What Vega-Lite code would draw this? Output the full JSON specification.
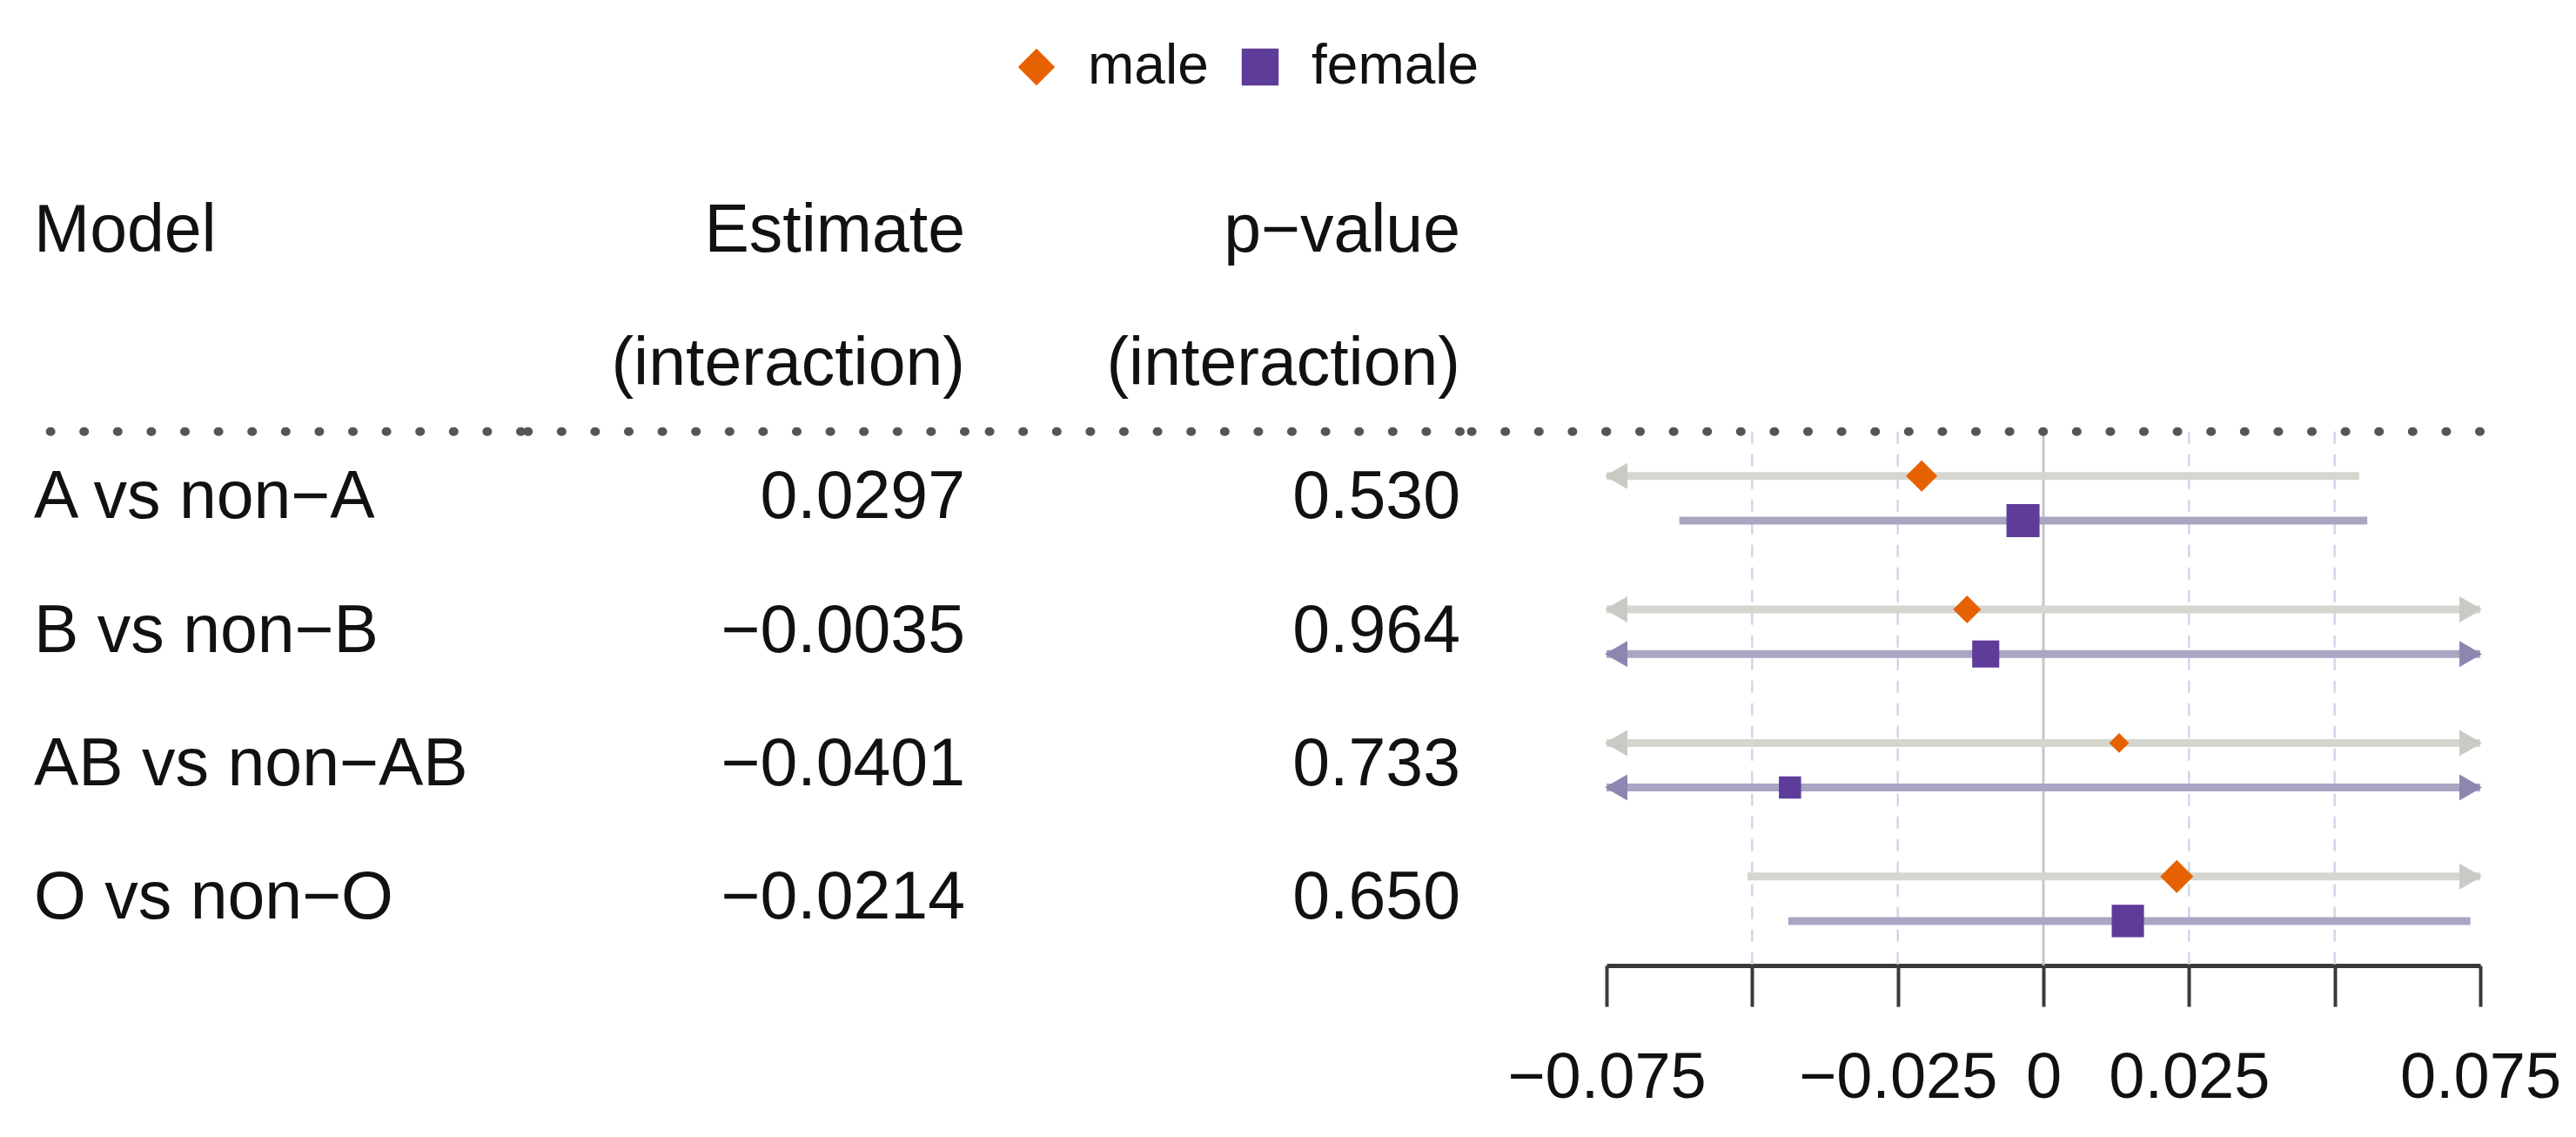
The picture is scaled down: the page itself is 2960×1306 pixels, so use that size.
{
  "$schema": "https://vega.github.io/schema/vega-lite/v6.json",
  "background": "white",
  "padding": {"left": 34, "top": 45, "right": 20, "bottom": 20},
  "bounds": "flush",
  "spacing": 0,
  "config": {
    "view": {"stroke": null},
    "font": "Liberation Sans",
    "legend": {
      "orient": "none",
      "legendX": 1120,
      "legendY": -144,
      "direction": "horizontal",
      "labelFontSize": 64,
      "labelColor": "#111111",
      "labelLimit": 0,
      "symbolSize": 1800,
      "symbolStrokeWidth": 0,
      "labelOffset": 27,
      "columnPadding": 27,
      "padding": 0
    }
  },
  "datasets": {
    "rows": [
      {"row": "h1", "model": "Model", "estimate": "Estimate", "pvalue": "p−value"},
      {"row": "h2", "model": "", "estimate": "(interaction)", "pvalue": "(interaction)"},
      {"row": "A", "model": "A vs non−A", "estimate": "0.0297", "pvalue": "0.530"},
      {"row": "B", "model": "B vs non−B", "estimate": "−0.0035", "pvalue": "0.964"},
      {"row": "AB", "model": "AB vs non−AB", "estimate": "−0.0401", "pvalue": "0.733"},
      {"row": "O", "model": "O vs non−O", "estimate": "−0.0214", "pvalue": "0.650"}
    ],
    "est": [
      {"row": "A", "sex": "male", "est": -0.0209, "lo": -0.075, "hi": 0.0542, "weight": 0.9},
      {"row": "A", "sex": "female", "est": -0.0035, "lo": -0.0625, "hi": 0.0556, "weight": 1.0},
      {"row": "B", "sex": "male", "est": -0.0131, "lo": -0.075, "hi": 0.075, "weight": 0.71},
      {"row": "B", "sex": "female", "est": -0.0099, "lo": -0.075, "hi": 0.075, "weight": 0.67},
      {"row": "AB", "sex": "male", "est": 0.0130, "lo": -0.075, "hi": 0.075, "weight": 0.36},
      {"row": "AB", "sex": "female", "est": -0.0435, "lo": -0.075, "hi": 0.075, "weight": 0.45},
      {"row": "O", "sex": "male", "est": 0.0229, "lo": -0.0508, "hi": 0.075, "weight": 1.0},
      {"row": "O", "sex": "female", "est": 0.0145, "lo": -0.0438, "hi": 0.0733, "weight": 0.95}
    ],
    "grid": [{"tick": -0.05}, {"tick": -0.025}, {"tick": 0.025}, {"tick": 0.05}]
  },
  "hconcat": [
    {
      "width": 560,
      "height": 920,
      "layer": [
        {
          "data": {"name": "rows"},
          "mark": {"type": "text", "align": "left", "baseline": "middle", "fontSize": 77, "color": "#111111"},
          "encoding": {
            "y": {"field": "row", "type": "nominal", "sort": null, "scale": {"domain": ["h1", "h2", "A", "B", "AB", "O"], "paddingInner": 0, "paddingOuter": 0}, "axis": null},
            "x": {"value": 0},
            "text": {"field": "model"}
          }
        },
        {
          "data": {"values": [{}]},
          "mark": {"type": "rule", "color": "#555555", "strokeWidth": 10, "strokeDash": [1, 37.6], "strokeCap": "round"},
          "encoding": {
            "y": {"datum": "A", "type": "nominal", "bandPosition": 0, "scale": {"domain": ["h1", "h2", "A", "B", "AB", "O"], "paddingInner": 0, "paddingOuter": 0}, "axis": null}
          }
        }
      ]
    },
    {
      "width": 510,
      "height": 920,
      "layer": [
        {
          "data": {"name": "rows"},
          "mark": {"type": "text", "align": "right", "baseline": "middle", "fontSize": 77, "color": "#111111"},
          "encoding": {
            "y": {"field": "row", "type": "nominal", "sort": null, "scale": {"domain": ["h1", "h2", "A", "B", "AB", "O"], "paddingInner": 0, "paddingOuter": 0}, "axis": null},
            "x": {"value": "width"},
            "text": {"field": "estimate"}
          }
        },
        {
          "data": {"values": [{}]},
          "mark": {"type": "rule", "color": "#555555", "strokeWidth": 10, "strokeDash": [1, 37.6], "strokeCap": "round"},
          "encoding": {
            "y": {"datum": "A", "type": "nominal", "bandPosition": 0, "scale": {"domain": ["h1", "h2", "A", "B", "AB", "O"], "paddingInner": 0, "paddingOuter": 0}, "axis": null}
          }
        }
      ]
    },
    {
      "width": 569,
      "height": 920,
      "layer": [
        {
          "data": {"name": "rows"},
          "mark": {"type": "text", "align": "right", "baseline": "middle", "fontSize": 77, "color": "#111111"},
          "encoding": {
            "y": {"field": "row", "type": "nominal", "sort": null, "scale": {"domain": ["h1", "h2", "A", "B", "AB", "O"], "paddingInner": 0, "paddingOuter": 0}, "axis": null},
            "x": {"value": "width"},
            "text": {"field": "pvalue"}
          }
        },
        {
          "data": {"values": [{}]},
          "mark": {"type": "rule", "color": "#555555", "strokeWidth": 10, "strokeDash": [1, 37.6], "strokeCap": "round"},
          "encoding": {
            "y": {"datum": "A", "type": "nominal", "bandPosition": 0, "scale": {"domain": ["h1", "h2", "A", "B", "AB", "O"], "paddingInner": 0, "paddingOuter": 0}, "axis": null}
          }
        }
      ]
    },
    {
      "width": 168,
      "height": 920,
      "layer": [
        {
          "data": {"values": [{}]},
          "mark": {"type": "rule", "color": "#555555", "strokeWidth": 10, "strokeDash": [1, 37.6], "strokeCap": "round"},
          "encoding": {
            "y": {"datum": "A", "type": "nominal", "bandPosition": 0, "scale": {"domain": ["h1", "h2", "A", "B", "AB", "O"], "paddingInner": 0, "paddingOuter": 0}, "axis": null}
          }
        }
      ]
    },
    {
      "width": 1004,
      "height": 920,
      "layer": [
        {
          "data": {"name": "grid"},
          "mark": {"type": "rule", "color": "#d4d4ea", "strokeWidth": 2.5, "strokeDash": [14, 12]},
          "encoding": {
            "x": {
              "field": "tick", "type": "quantitative", "title": null,
              "scale": {"domain": [-0.075, 0.075], "nice": false, "zero": false},
              "axis": {
                "orient": "bottom",
                "values": [-0.075, -0.05, -0.025, 0, 0.025, 0.05, 0.075],
                "format": "~g",
                "labelExpr": "abs(datum.value) > 0.04 && abs(datum.value) < 0.06 ? '' : datum.label",
                "grid": false,
                "domainColor": "#3a3a3a",
                "domainWidth": 5,
                "tickColor": "#3a3a3a",
                "tickWidth": 4,
                "tickSize": 47,
                "labelFontSize": 74,
                "labelColor": "#111111",
                "labelPadding": 46,
                "labelLimit": 0,
                "labelFlush": false,
                "labelOverlap": false,
                "labelBound": false
              }
            },
            "y": {"datum": "A", "type": "nominal", "bandPosition": 0, "scale": {"domain": ["h1", "h2", "A", "B", "AB", "O"], "paddingInner": 0, "paddingOuter": 0}, "axis": null},
            "y2": {"value": "height"}
          }
        },
        {
          "data": {"values": [{}]},
          "mark": {"type": "rule", "color": "#c6c6c6", "strokeWidth": 3},
          "encoding": {
            "x": {"datum": 0, "type": "quantitative", "title": null},
            "y": {"datum": "A", "type": "nominal", "bandPosition": 0, "axis": null},
            "y2": {"value": "height"}
          }
        },
        {
          "data": {"name": "est"},
          "mark": {"type": "rule", "strokeWidth": 9},
          "encoding": {
            "x": {"field": "lo", "type": "quantitative", "title": null},
            "x2": {"field": "hi"},
            "y": {"field": "row", "type": "nominal", "axis": null},
            "yOffset": {"field": "sex", "type": "nominal", "scale": {"type": "point", "domain": ["male", "female"], "padding": 1.756}},
            "color": {"condition": {"test": "datum.sex === 'male'", "value": "#d5d6cf"}, "value": "#a9a5c3"}
          }
        },
        {
          "data": {"name": "est"},
          "transform": [{"filter": "datum.lo <= -0.075"}],
          "mark": {"type": "point", "shape": "triangle-left", "filled": true, "size": 900, "opacity": 1, "xOffset": 11},
          "encoding": {
            "x": {"field": "lo", "type": "quantitative", "title": null},
            "y": {"field": "row", "type": "nominal", "axis": null},
            "yOffset": {"field": "sex", "type": "nominal"},
            "color": {"condition": {"test": "datum.sex === 'male'", "value": "#c9cac3"}, "value": "#8c87b0"}
          }
        },
        {
          "data": {"name": "est"},
          "transform": [{"filter": "datum.hi >= 0.075"}],
          "mark": {"type": "point", "shape": "triangle-right", "filled": true, "size": 900, "opacity": 1, "xOffset": -11},
          "encoding": {
            "x": {"field": "hi", "type": "quantitative", "title": null},
            "y": {"field": "row", "type": "nominal", "axis": null},
            "yOffset": {"field": "sex", "type": "nominal"},
            "color": {"condition": {"test": "datum.sex === 'male'", "value": "#c9cac3"}, "value": "#8c87b0"}
          }
        },
        {
          "data": {"name": "est"},
          "mark": {"type": "point", "filled": true, "opacity": 1, "strokeWidth": 0},
          "encoding": {
            "x": {"field": "est", "type": "quantitative", "title": null},
            "y": {"field": "row", "type": "nominal", "axis": null},
            "yOffset": {"field": "sex", "type": "nominal"},
            "color": {"field": "sex", "type": "nominal", "scale": {"domain": ["male", "female"], "range": ["#e66101", "#5e3c99"]}, "legend": {"title": null}},
            "shape": {"field": "sex", "type": "nominal", "scale": {"domain": ["male", "female"], "range": ["diamond", "square"]}, "legend": {"title": null}},
            "size": {"field": "weight", "type": "quantitative", "scale": {"domain": [0, 1], "range": [0, 1444]}, "legend": null}
          }
        },
        {
          "data": {"values": [{}]},
          "mark": {"type": "rule", "color": "#555555", "strokeWidth": 10, "strokeDash": [1, 37.6], "strokeCap": "round"},
          "encoding": {
            "y": {"datum": "A", "type": "nominal", "bandPosition": 0, "axis": null}
          }
        }
      ]
    }
  ]
}
